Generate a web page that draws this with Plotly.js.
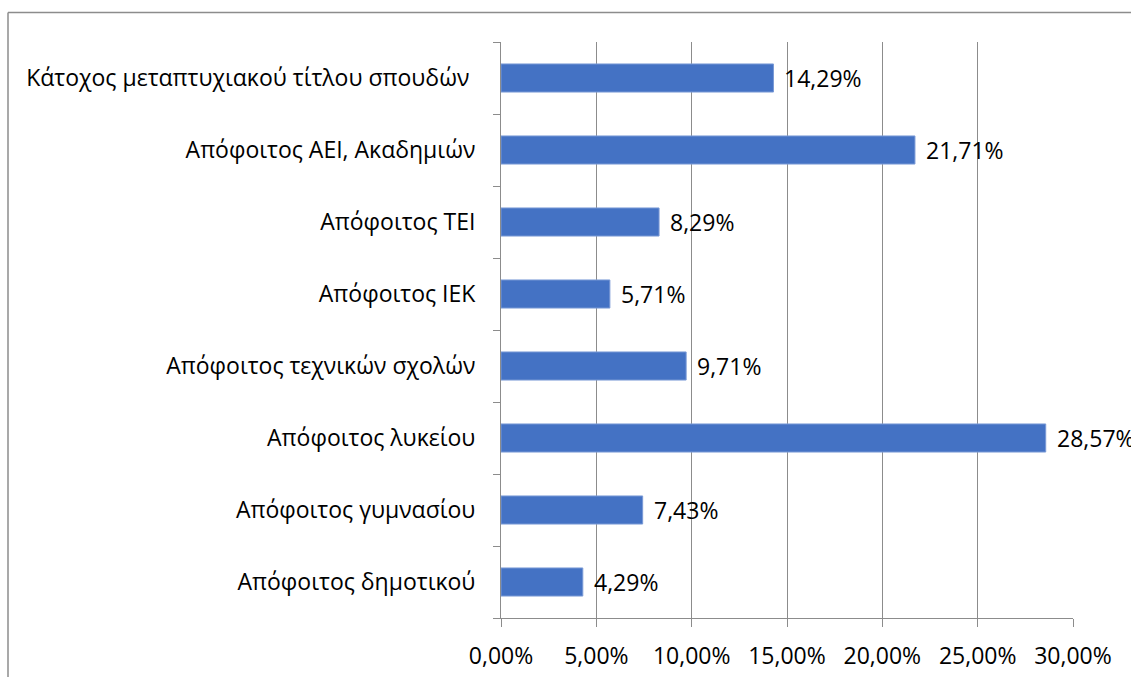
<!DOCTYPE html>
<html>
<head>
<meta charset="utf-8">
<script src="https://cdn.plot.ly/plotly-3.0.1.min.js"></script>
<style>html,body{margin:0;padding:0;background:#fff;}#chart{width:1131px;height:677px;}</style>
</head>
<body>
<div id="chart"></div>
<script>
const categories = [
  "Απόφοιτος δημοτικού",
  "Απόφοιτος γυμνασίου",
  "Απόφοιτος λυκείου",
  "Απόφοιτος τεχνικών σχολών",
  "Απόφοιτος ΙΕΚ",
  "Απόφοιτος ΤΕΙ",
  "Απόφοιτος ΑΕΙ, Ακαδημιών",
  "Κάτοχος μεταπτυχιακού τίτλου σπουδών "
];
const values = [4.29, 7.43, 28.57, 9.71, 5.71, 8.29, 21.71, 14.29];
const xTickVals = [0, 5, 10, 15, 20, 25, 30];

const fmt = v => v.toFixed(2).replace('.', ',') + '%';
const FONT = "Open Sans, Noto Sans, sans-serif";
const FS = 23;

const trace = {
  type: 'bar',
  orientation: 'h',
  x: values,
  y: categories,
  marker: {color: '#4472C4', line: {color: '#7a9ad6', width: 1}},
  hoverinfo: 'none'
};

const annotations = values.map((v, i) => ({
  x: v, y: categories[i], xref: 'x', yref: 'y',
  text: fmt(v), showarrow: false, xanchor: 'left', xshift: 9,
  font: {family: FONT, size: FS, color: '#000'}
}));

const layout = {
  width: 1131, height: 677,
  margin: {l: 501, r: 58, t: 42, b: 59},
  paper_bgcolor: '#fff', plot_bgcolor: '#fff',
  showlegend: false,
  bargap: 0.61,
  font: {family: FONT, size: FS, color: '#000'},
  xaxis: {
    range: [0, 30], tickvals: xTickVals, ticktext: xTickVals.map(fmt),
    showgrid: true, gridcolor: '#8c8c8c', gridwidth: 1,
    zeroline: false, showline: true, linecolor: '#8c8c8c', linewidth: 1,
    ticks: 'outside', ticklen: 8, tickcolor: '#8c8c8c',
    ticklabelstandoff: 9,
    tickfont: {family: FONT, size: FS, color: '#000'}, fixedrange: true
  },
  yaxis: {
    type: 'category', showgrid: false, zeroline: false,
    showline: true, linecolor: '#8c8c8c', linewidth: 1,
    ticks: 'outside', ticklen: 7, tickcolor: '#8c8c8c', tickson: 'boundaries',
    ticklabelstandoff: 20,
    tickfont: {family: FONT, size: FS, color: '#000'}, fixedrange: true
  },
  annotations: annotations,
  shapes: [
    {type: 'line', xref: 'paper', yref: 'paper', x0: (8 - 501) / 572, x1: 1.2, y0: (618 - 12.5) / 576, y1: (618 - 12.5) / 576, line: {color: '#8c8c8c', width: 1.5}},
    {type: 'line', xref: 'paper', yref: 'paper', x0: (8 - 501) / 572, x1: (8 - 501) / 572, y0: -0.2, y1: (618 - 12.5) / 576, line: {color: '#8c8c8c', width: 1.5}}
  ]
};

Plotly.newPlot('chart', [trace], layout, {displayModeBar: false, staticPlot: true});
</script>
</body>
</html>
